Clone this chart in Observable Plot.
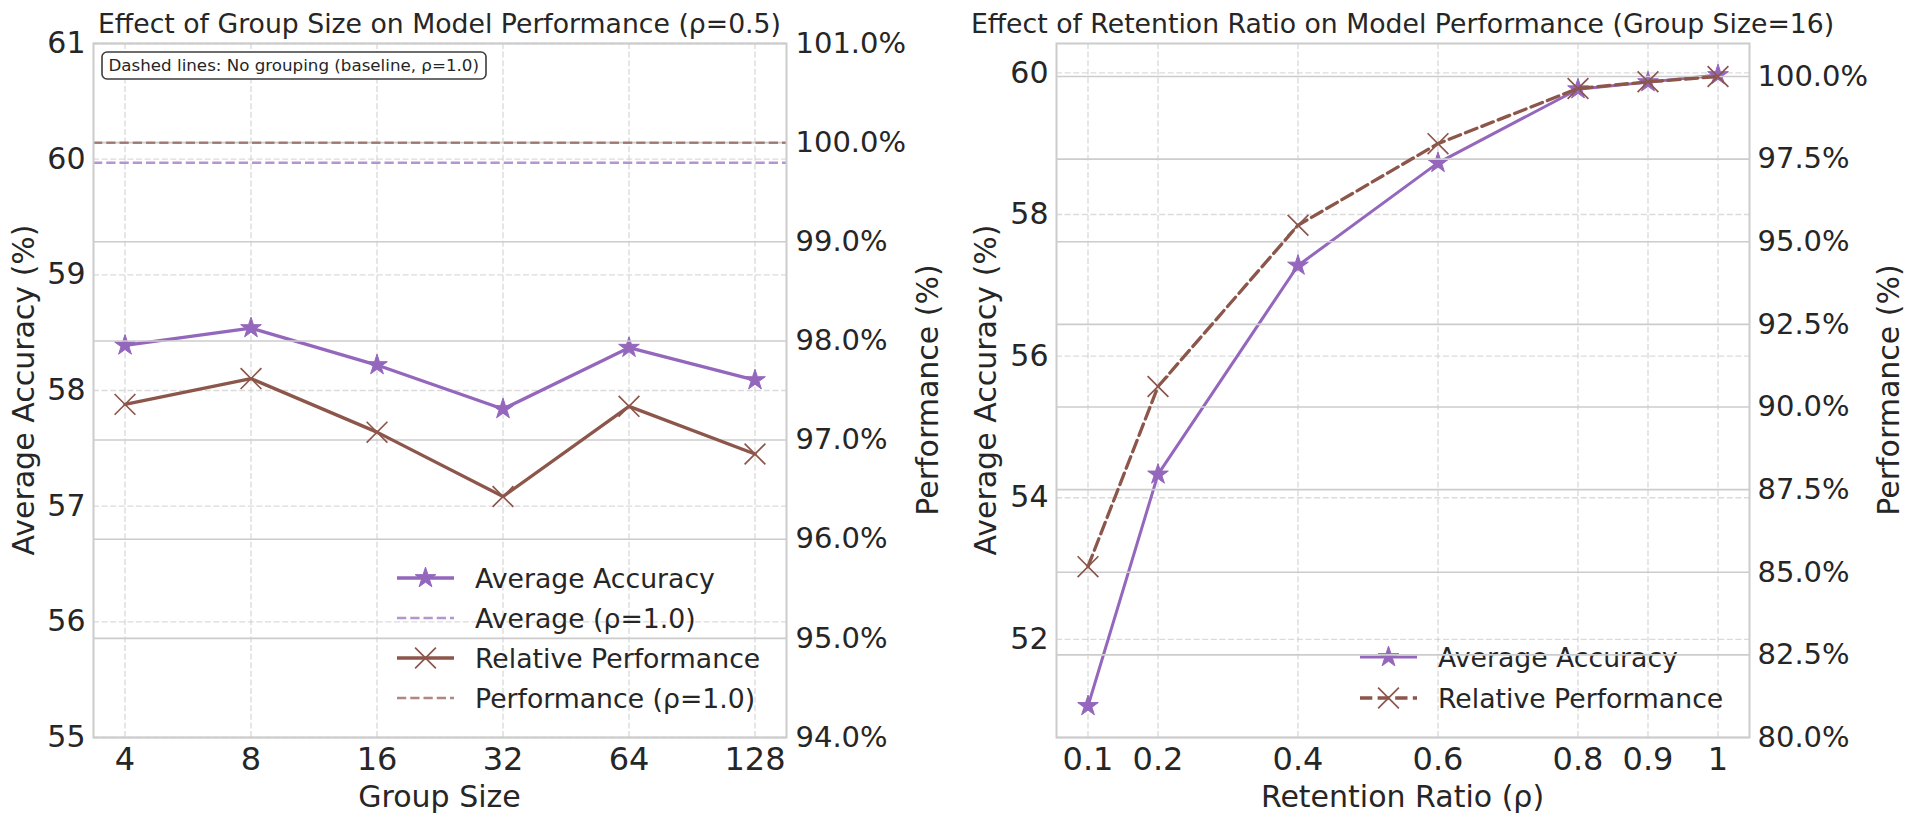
<!DOCTYPE html>
<html>
<head>
<meta charset="utf-8">
<script src="https://cdn.jsdelivr.net/npm/d3@7"></script>
<script src="https://cdn.jsdelivr.net/npm/@observablehq/plot@0.6"></script>
<style>
html, body { margin: 0; padding: 0; background: #ffffff; }
#chart { position: relative; width: 1920px; height: 825px; overflow: hidden; background: #ffffff; font-family: "DejaVu Sans", sans-serif; }
#chart > svg { position: absolute; top: 0; }
</style>
</head>
<body>
<div id="chart"></div>
<script>
// ---------- data ----------
const groupSizes = [4, 8, 16, 32, 64, 128];
const groupAvgAcc = [58.39, 58.54, 58.22, 57.84, 58.37, 58.09];
const groupRelPerf = [97.36, 97.62, 97.08, 96.43, 97.34, 96.86];
const baselineAvgAcc = 59.97;
const baselinePerf = 100.0;

const retentionRatios = [0.1, 0.2, 0.4, 0.6, 0.8, 0.9, 1.0];
const ratioAvgAcc = [51.06, 54.33, 57.28, 58.73, 59.77, 59.87, 59.97];
const ratioRelPerf = [85.17, 90.62, 95.5, 97.97, 99.64, 99.84, 100.0];

const leftAccTicks = [55, 56, 57, 58, 59, 60, 61];
const leftPerfTicks = [94, 95, 96, 97, 98, 99, 100, 101];
const rightAccTicks = [52, 54, 56, 58, 60];
const rightPerfTicks = [80, 82.5, 85, 87.5, 90, 92.5, 95, 97.5, 100];
const ratioTickLabels = ["0.1", "0.2", "0.4", "0.6", "0.8", "0.9", "1"];

const titleLeft = "Effect of Group Size on Model Performance (\u03c1=0.5)";
const titleRight = "Effect of Retention Ratio on Model Performance (Group Size=16)";
const xLabelLeft = "Group Size";
const xLabelRight = "Retention Ratio (\u03c1)";
const yLabelAcc = "Average Accuracy (%)";
const yLabelPerf = "Performance (%)";
const boxNote = "Dashed lines: No grouping (baseline, \u03c1=1.0)";
const legendLeftLabels = ["Average Accuracy", "Average (\u03c1=1.0)", "Relative Performance", "Performance (\u03c1=1.0)"];
const legendRightLabels = ["Average Accuracy", "Relative Performance"];

// ---------- styling ----------
const PURPLE = "#9467bd";
const BROWN = "#8c564b";
const TEXT = "#262626";
const FONT = "DejaVu Sans, sans-serif";
const W = 960, H = 825;
const M = {top: 43, bottom: 88};
const leftPanel = {left: 93, right: 174};
const rightPanel = {left: 96, right: 171};
const lineW = 3.3;
const starR = 6.5, timesR = 9.5;
const dashGrid = {stroke: "#cccccc", strokeOpacity: 0.7, strokeWidth: 1.4, strokeDasharray: "6,2.6"};
const solidGrid = {stroke: "#cccccc", strokeOpacity: 1, strokeWidth: 1.6};

const groupData = groupSizes.map((g, i) => ({size: g, acc: groupAvgAcc[i], perf: groupRelPerf[i]}));
const ratioData = retentionRatios.map((r, i) => ({ratio: r, acc: ratioAvgAcc[i], perf: ratioRelPerf[i]}));

// matplotlib-like 5% autoscale margins
const pad = (lo, hi) => { const d = (hi - lo) * 0.05; return [lo - d, hi + d]; };
const logDom = pad(Math.log2(d3.min(groupSizes)), Math.log2(d3.max(groupSizes))).map(v => 2 ** v);
const ratioDom = pad(d3.min(retentionRatios), d3.max(retentionRatios));
const ratioAccDom = pad(d3.min(ratioAvgAcc), d3.max(ratioAvgAcc));

const chart = document.getElementById("chart");
function place(svg, left, z) {
  svg.style.position = "absolute";
  svg.style.left = left + "px";
  svg.style.top = "0px";
  svg.style.zIndex = z;
  chart.appendChild(svg);
}
const baseStyle = {background: "transparent", fontFamily: FONT, color: TEXT, overflow: "visible"};

// ---------- left panel primary ----------
const leftPrimary = Plot.plot({
  width: W, height: H,
  marginLeft: leftPanel.left, marginRight: leftPanel.right, marginTop: M.top, marginBottom: M.bottom,
  style: baseStyle,
  x: {type: "log", base: 2, domain: logDom},
  y: {domain: [55, 61]},
  marks: [
    Plot.gridX(groupSizes, dashGrid),
    Plot.gridY(leftAccTicks, dashGrid),
    Plot.ruleY([baselineAvgAcc], {stroke: PURPLE, strokeOpacity: 0.7, strokeWidth: 2.5, strokeDasharray: "9.25,4"}),
    Plot.line(groupData, {x: "size", y: "acc", stroke: PURPLE, strokeWidth: lineW}),
    Plot.dot(groupData, {x: "size", y: "acc", symbol: "star", r: starR, fill: PURPLE, stroke: PURPLE, strokeWidth: 1}),
    Plot.axisX(groupSizes, {tickSize: 0, tickPadding: 10, fontSize: 32, tickFormat: d => String(d), label: null}),
    Plot.axisY(leftAccTicks, {anchor: "left", tickSize: 0, tickPadding: 8, fontSize: 30, tickFormat: d => String(d), label: null})
  ]
});

// ---------- right panel primary ----------
const rightPrimary = Plot.plot({
  width: W, height: H,
  marginLeft: rightPanel.left, marginRight: rightPanel.right, marginTop: M.top, marginBottom: M.bottom,
  style: baseStyle,
  x: {domain: ratioDom},
  y: {domain: ratioAccDom},
  marks: [
    Plot.gridX(retentionRatios, dashGrid),
    Plot.gridY(rightAccTicks, dashGrid),
    Plot.line(ratioData, {x: "ratio", y: "acc", stroke: PURPLE, strokeWidth: 3}),
    Plot.dot(ratioData, {x: "ratio", y: "acc", symbol: "star", r: starR, fill: PURPLE, stroke: PURPLE, strokeWidth: 1}),
    Plot.axisX(retentionRatios, {tickSize: 0, tickPadding: 10, fontSize: 32, tickFormat: (d, i) => ratioTickLabels[i], label: null}),
    Plot.axisY(rightAccTicks, {anchor: "left", tickSize: 0, tickPadding: 8, fontSize: 30, tickFormat: d => String(d), label: null})
  ]
});

// ---------- left panel secondary (twin axis) ----------
const leftSecondary = Plot.plot({
  width: W, height: H,
  marginLeft: leftPanel.left, marginRight: leftPanel.right, marginTop: M.top, marginBottom: M.bottom,
  style: baseStyle,
  x: {type: "log", base: 2, domain: logDom, axis: null},
  y: {domain: [94, 101]},
  marks: [
    Plot.gridY(leftPerfTicks, solidGrid),
    Plot.ruleY([baselinePerf], {stroke: BROWN, strokeOpacity: 0.7, strokeWidth: 2.5, strokeDasharray: "9.25,4"}),
    Plot.line(groupData, {x: "size", y: "perf", stroke: BROWN, strokeWidth: lineW}),
    Plot.dot(groupData, {x: "size", y: "perf", symbol: "times", r: timesR, fill: "none", stroke: BROWN, strokeWidth: 1.7}),
    Plot.axisY(leftPerfTicks, {anchor: "right", tickSize: 0, tickPadding: 9, fontSize: 29, tickFormat: d => d.toFixed(1) + "%", label: null}),
    Plot.frame({stroke: "#cccccc", strokeWidth: 2})
  ]
});

// ---------- right panel secondary (twin axis) ----------
const rightSecondary = Plot.plot({
  width: W, height: H,
  marginLeft: rightPanel.left, marginRight: rightPanel.right, marginTop: M.top, marginBottom: M.bottom,
  style: baseStyle,
  x: {domain: ratioDom, axis: null},
  y: {domain: [80, 101]},
  marks: [
    Plot.gridY(rightPerfTicks, solidGrid),
    Plot.line(ratioData, {x: "ratio", y: "perf", stroke: BROWN, strokeWidth: lineW, strokeDasharray: "12.3,5.3"}),
    Plot.dot(ratioData, {x: "ratio", y: "perf", symbol: "times", r: timesR, fill: "none", stroke: BROWN, strokeWidth: 1.7}),
    Plot.axisY(rightPerfTicks, {anchor: "right", tickSize: 0, tickPadding: 8, fontSize: 29, tickFormat: d => d.toFixed(1) + "%", label: null}),
    Plot.frame({stroke: "#cccccc", strokeWidth: 2})
  ]
});

place(leftPrimary, 0, 1);
place(rightPrimary, 960, 1);

// ---------- decor layer: titles, labels, legends, note box ----------
const decor = d3.create("svg")
  .attr("width", 1920).attr("height", 825)
  .attr("font-family", FONT).attr("fill", TEXT)
  .style("position", "absolute").style("left", "0px").style("top", "0px").style("z-index", 2);

function txt(s, x, y, size, anchor = "middle", rotate = 0) {
  decor.append("text")
    .attr("transform", `translate(${x},${y})` + (rotate ? ` rotate(${rotate})` : ""))
    .attr("text-anchor", anchor).attr("font-size", size).attr("fill", TEXT).text(s);
}
txt(titleLeft, 439.5, 33.3, 26.7);
txt(titleRight, 1402.5, 33.3, 26.7);
txt(xLabelLeft, 439.5, 806.5, 30);
txt(xLabelRight, 1402.5, 806.5, 30);
txt(yLabelAcc, 34, 390, 30, "middle", -90);
txt(yLabelPerf, 938, 390, 30, "middle", -90);
txt(yLabelAcc, 996, 390, 30, "middle", -90);
txt(yLabelPerf, 1899, 390, 30, "middle", -90);

// note box
const noteG = decor.append("g");
const noteText = noteG.append("text").attr("x", 108.5).attr("y", 71).attr("font-size", 16.7).attr("fill", TEXT).text(boxNote);
noteG.insert("rect", "text").attr("x", 102).attr("y", 52).attr("width", 384).attr("height", 27)
  .attr("rx", 5).attr("fill", "#ffffff").attr("stroke", "#3d3d3d").attr("stroke-width", 1.6);

const starPath = d3.symbol(d3.symbolStar, Math.PI * starR * starR)();
const timesPath = d3.symbol(d3.symbolTimes, Math.PI * timesR * timesR)();
function legendRow(x0, y, label, spec) {
  const g = decor.append("g");
  const line = g.append("line").attr("x1", x0).attr("x2", x0 + 57).attr("y1", y).attr("y2", y)
    .attr("stroke", spec.color).attr("stroke-width", spec.width).attr("stroke-opacity", spec.opacity || 1);
  if (spec.dash) line.attr("stroke-dasharray", spec.dash);
  if (spec.marker === "star") g.append("path").attr("d", starPath).attr("transform", `translate(${x0 + 28.5},${y})`).attr("fill", spec.color).attr("stroke", spec.color).attr("stroke-width", 1);
  if (spec.marker === "times") g.append("path").attr("d", timesPath).attr("transform", `translate(${x0 + 28.5},${y})`).attr("fill", "none").attr("stroke", spec.color).attr("stroke-width", 1.7);
  g.append("text").attr("x", x0 + 78).attr("y", y + 10).attr("font-size", 26.7).attr("fill", TEXT).text(label);
}
const leftSpecs = [
  {color: PURPLE, width: lineW, marker: "star"},
  {color: PURPLE, width: 2.5, opacity: 0.7, dash: "9.25,4"},
  {color: BROWN, width: lineW, marker: "times"},
  {color: BROWN, width: 2.5, opacity: 0.7, dash: "9.25,4"}
];
const leftRowsY = [578, 618, 658, 698];
legendLeftLabels.forEach((l, i) => legendRow(397, leftRowsY[i], l, leftSpecs[i]));
const rightSpecs = [
  {color: PURPLE, width: 3, marker: "star"},
  {color: BROWN, width: lineW, dash: "12.3,5.3", marker: "times"}
];
const rightRowsY = [657, 698];
legendRightLabels.forEach((l, i) => legendRow(1360, rightRowsY[i], l, rightSpecs[i]));

chart.appendChild(decor.node());
place(leftSecondary, 0, 3);
place(rightSecondary, 960, 3);
</script>
</body>
</html>
